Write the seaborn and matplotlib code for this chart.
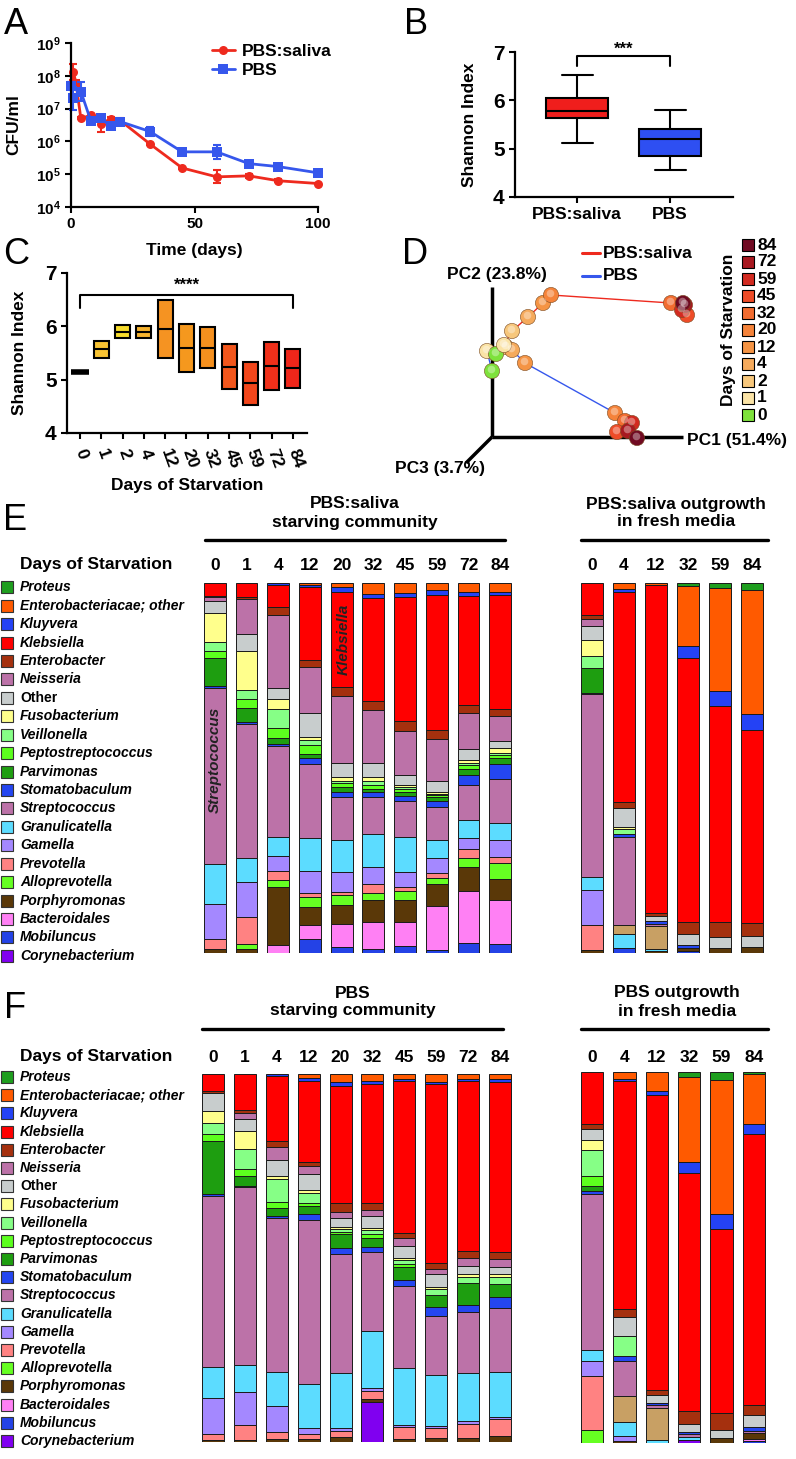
import numpy as np
import pandas as pd
import seaborn as sns
import matplotlib.pyplot as plt
from matplotlib.patches import Rectangle
from matplotlib.ticker import NullLocator
from matplotlib import transforms

sns.set_style("ticks")
plt.rcParams['font.family'] = ['Liberation Sans', 'DejaVu Sans']
plt.rcParams['font.weight'] = 'bold'
plt.rcParams['axes.labelweight'] = 'bold'
plt.rcParams['text.color'] = 'black'
plt.rcParams['axes.labelcolor'] = 'black'
plt.rcParams['axes.edgecolor'] = 'black'
plt.rcParams['xtick.color'] = 'black'
plt.rcParams['ytick.color'] = 'black'
plt.rcParams['mathtext.fontset'] = 'custom'
plt.rcParams['mathtext.rm'] = 'Liberation Sans:bold'
plt.rcParams['mathtext.bf'] = 'Liberation Sans:bold'

# ---- panel A: CFU over time
cfu_days_saliva = [0, 1, 2, 4, 8, 12, 16, 20, 32, 45, 59, 72, 84, 100]
cfu_saliva = [5e7, 1.3e8, 6e7, 5e6, 6.3e6, 3.5e6, 4.8e6, 4.3e6, 8.3e5, 1.55e5, 8.3e4, 8.9e4, 6.3e4, 5.2e4]
cfu_saliva_err = [0.1, 0.25, 0.1, 0.03, 0.05, 0.25, 0.05, 0.08, 0.04, 0.04, 0.2, 0.06, 0.04, 0.03]
cfu_days_pbs = [0, 1, 4, 8, 12, 16, 20, 32, 45, 59, 72, 84, 100]
cfu_pbs = [5e7, 2.1e7, 3.3e7, 4.3e6, 5e6, 3e6, 4e6, 2e6, 4.8e5, 4.8e5, 2.1e5, 1.7e5, 1.1e5]
cfu_pbs_err = [0.1, 0.35, 0.3, 0.1, 0.05, 0.1, 0.05, 0.13, 0.04, 0.22, 0.04, 0.04, 0.04]

# ---- panel B: Shannon boxes
b_groups = ['PBS:saliva', 'PBS']
b_q1 = [5.63, 4.85]
b_med = [5.77, 5.20]
b_q3 = [6.05, 5.40]
b_lo = [5.12, 4.55]
b_hi = [6.53, 5.80]

# ---- panel C: Shannon by day (min / median / max)
c_days = ['0', '1', '2', '4', '12', '20', '32', '45', '59', '72', '84']
c_min = [5.15, 5.41, 5.78, 5.78, 5.41, 5.14, 5.21, 4.83, 4.53, 4.80, 4.84]
c_med = [5.15, 5.57, 5.90, 5.90, 5.95, 5.60, 5.60, 5.24, 4.94, 5.25, 5.21]
c_max = [5.15, 5.72, 6.03, 6.01, 6.49, 6.05, 5.99, 5.66, 5.33, 5.70, 5.58]
c_colors = ['#000000', '#F7C232', '#F7DC2C', '#F5B22E', '#F59322', '#F5981E',
            '#F5901E', '#F2561C', '#F2461B', '#F0301A', '#EF261A']

# ---- panel D: PCoA
d_days = [0, 1, 2, 4, 12, 20, 32, 45, 59, 72, 84]
d_saliva_pc1 = [4, 12, 20, 36, 51, 59, 179, 195, 190, 193, 191]
d_saliva_pc2 = [83, 92, 106, 120, 134, 142, 134, 122, 127, 132, 134]
d_pbs_pc1 = [0, -5, 14, 20, 33, 123, 133, 125, 140, 136, 145]
d_pbs_pc2 = [66, 86, 90, 87, 74, 24, 16, 5, 14, 6, -1]
d_day_colors = ['#7EE23C', '#FAE3A6', '#F7C77C', '#F5AA5C', '#F59444', '#F5833A',
                '#F26C30', '#EE4C28', '#D22A20', '#A81820', '#700A22']

# ---- panels E/F: genus composition (% of reads, top to bottom)
taxa = ['Prot', 'EntO', 'Kluy', 'Kleb', 'Entb', 'Neis', 'Oth', 'Fuso', 'Veil', 'Pept', 'Parv',
        'Stom', 'Strep', 'tan', 'Gran', 'Gam', 'Prev', 'Allo', 'Porph', 'Bact', 'Mobi', 'Cory']
taxa_labels = ['Proteus', 'Enterobacteriacae; other', 'Kluyvera', 'Klebsiella', 'Enterobacter',
               'Neisseria', 'Other', 'Fusobacterium', 'Veillonella', 'Peptostreptococcus',
               'Parvimonas', 'Stomatobaculum', 'Streptococcus', '', 'Granulicatella', 'Gamella',
               'Prevotella', 'Alloprevotella', 'Porphyromonas', 'Bacteroidales', 'Mobiluncus',
               'Corynebacterium']
taxa_colors = ['#1E9E1E', '#FF5A00', '#2442F5', '#FF0000', '#A5300E', '#BC72A8', '#C8CDCD',
               '#FFFF8C', '#86FF86', '#5CFF1E', '#1E9E10', '#2446F0', '#BC72A8', '#C8A064',
               '#5CDCFF', '#A488FF', '#FF8282', '#66FF22', '#5A3808', '#FF80F4', '#2442E6', '#8000F0']

e_starve_days = ['0', '1', '4', '12', '20', '32', '45', '59', '72', '84']
e_starve = [
    dict(Kleb=3.4, Entb=0.3, Neis=1.2, Oth=3.1, Fuso=8.0, Veil=2.4, Pept=1.8, Parv=7.7, Stom=0.4,
         Strep=47.6, Gran=10.8, Gam=9.3, Prev=2.7, Porph=1.2),
    dict(Kleb=3.9, Entb=0.5, Neis=9.5, Oth=4.5, Fuso=10.6, Veil=2.3, Pept=2.5, Parv=3.8, Stom=0.5,
         Strep=36.5, Gran=6.5, Gam=9.3, Prev=7.4, Allo=1.2, Porph=1.2),
    dict(Kluy=0.5, Kleb=5.9, Entb=2.1, Neis=19.8, Oth=3.0, Fuso=2.7, Veil=5.1, Pept=2.7, Parv=1.5,
         Stom=0.7, Strep=24.4, Gran=5.2, Gam=4.2, Prev=2.3, Allo=1.8, Porph=15.8, Bact=2.1),
    dict(EntO=0.5, Kluy=0.5, Kleb=19.8, Entb=1.8, Neis=12.5, Oth=6.5, Fuso=0.7, Veil=1.5, Pept=2.4,
         Parv=1.2, Stom=1.4, Strep=20.0, Gran=9.0, Gam=6.1, Prev=0.9, Allo=2.7, Porph=5.0, Bact=3.6, Mobi=3.9),
    dict(EntO=1.1, Kluy=1.2, Kleb=25.9, Entb=2.3, Neis=18.2, Oth=3.8, Fuso=0.9, Veil=0.5, Pept=1.1,
         Parv=1.5, Stom=1.2, Strep=11.7, Gran=8.6, Gam=5.4, Prev=0.9, Allo=2.7, Porph=5.0, Bact=6.3, Mobi=1.6),
    dict(EntO=2.9, Kluy=1.2, Kleb=27.8, Entb=2.4, Neis=14.4, Oth=3.6, Fuso=1.1, Veil=1.2, Pept=0.9,
         Parv=0.9, Stom=1.5, Strep=9.9, Gran=9.0, Gam=4.5, Prev=2.3, Allo=2.0, Porph=5.9, Bact=7.2, Mobi=1.2),
    dict(EntO=2.7, Kluy=1.1, Kleb=33.5, Entb=2.7, Neis=11.9, Oth=2.7, Fuso=0.5, Veil=0.5, Pept=1.0,
         Parv=1.0, Stom=1.5, Strep=9.7, Gran=9.3, Gam=4.1, Prev=1.1, Allo=2.5, Porph=5.9, Bact=6.6, Mobi=1.8),
    dict(EntO=2.0, Kluy=1.2, Kleb=36.5, Entb=2.5, Neis=11.2, Oth=3.0, Fuso=0.5, Veil=0.5, Pept=0.5,
         Parv=1.0, Stom=1.6, Strep=9.0, Gran=4.7, Gam=4.3, Prev=1.1, Allo=1.8, Porph=5.9, Bact=12.0, Mobi=0.7),
    dict(EntO=2.3, Kluy=1.2, Kleb=29.5, Entb=2.1, Neis=9.9, Oth=2.9, Fuso=0.7, Veil=0.6, Pept=1.2,
         Parv=1.5, Stom=2.7, Strep=9.5, Gran=4.7, Gam=3.2, Prev=2.2, Allo=2.5, Porph=6.5, Bact=14.1, Mobi=2.7),
    dict(EntO=2.3, Kluy=0.9, Kleb=30.9, Entb=1.8, Neis=6.7, Oth=2.1, Fuso=1.2, Veil=0.6, Pept=0.9,
         Parv=1.6, Stom=4.1, Strep=11.7, Gran=4.7, Gam=4.5, Prev=1.8, Allo=4.1, Porph=5.7, Bact=11.9, Mobi=2.5),
]

e_grow_days = ['0', '4', '12', '32', '59', '84']
e_grow = [
    dict(Kleb=8.7, Entb=0.9, Neis=2.1, Oth=3.8, Fuso=4.3, Veil=3.1, Parv=6.9, Stom=0.3, Strep=49.3,
         Gran=3.6, Gam=9.3, Prev=6.8, Porph=0.9),
    dict(EntO=1.5, Kluy=0.9, Kleb=56.8, Entb=1.8, Oth=5.0, Fuso=0.6, Veil=1.2, Stom=0.9, Strep=23.9,
         tan=2.3, Gran=3.8, Mobi=1.4),
    dict(EntO=0.6, Kleb=88.7, Entb=0.6, Oth=1.5, Stom=0.7, Strep=0.5, tan=6.3, Gran=0.6, Porph=0.5),
    dict(Prot=0.9, EntO=16.2, Kluy=3.1, Kleb=71.7, Entb=3.2, Oth=3.0, Stom=0.7, Porph=0.8, Mobi=0.6),
    dict(Prot=1.3, EntO=27.8, Kluy=4.1, Kleb=58.4, Entb=4.2, Oth=2.9, Porph=1.4),
    dict(Prot=1.8, EntO=33.6, Kluy=4.3, Kleb=52.2, Entb=3.7, Oth=2.9, Porph=1.6),
]

f_starve_days = ['0', '1', '4', '12', '20', '32', '45', '59', '72', '84']
f_starve = [
    dict(Kleb=4.5, Entb=0.7, Oth=4.8, Fuso=3.2, Veil=3.1, Pept=1.8, Parv=14.5, Stom=0.6, Strep=46.5,
         Gran=8.4, Gam=9.7, Prev=1.6, Porph=0.6),
    dict(Kleb=9.8, Entb=0.9, Neis=1.6, Oth=3.3, Fuso=4.8, Veil=5.4, Pept=1.8, Parv=2.7, Stom=0.4,
         Strep=48.4, Gran=7.4, Gam=9.0, Prev=3.9, Porph=0.6),
    dict(Kluy=0.6, Kleb=17.6, Entb=1.6, Neis=3.6, Oth=4.3, Fuso=0.9, Veil=6.1, Pept=1.8, Parv=2.0,
         Stom=0.7, Strep=41.8, Gran=9.1, Gam=7.2, Prev=1.8, Porph=0.8),
    dict(EntO=1.2, Kluy=0.6, Kleb=22.0, Entb=1.2, Neis=2.0, Oth=4.5, Fuso=0.7, Veil=2.7, Pept=0.9,
         Parv=2.3, Stom=1.4, Strep=44.5, Gran=12.0, Gam=1.6, Prev=1.4, Porph=0.8),
    dict(EntO=2.3, Kluy=0.9, Kleb=32.0, Entb=2.3, Neis=1.8, Oth=2.3, Fuso=0.5, Veil=0.9, Pept=0.5,
         Parv=3.8, Stom=1.6, Strep=32.6, Gran=14.9, Gam=0.7, Prev=1.7, Porph=1.4),
    dict(EntO=1.8, Kluy=0.9, Kleb=32.4, Entb=2.0, Neis=1.6, Oth=3.2, Fuso=0.5, Veil=1.1, Pept=1.2,
         Parv=2.3, Stom=1.4, Strep=21.7, Gran=15.4, Gam=0.9, Prev=2.1, Porph=0.9, Cory=10.8),
    dict(EntO=1.4, Kluy=0.5, Kleb=41.3, Entb=1.5, Neis=2.1, Oth=3.2, Fuso=0.6, Veil=0.9, Pept=0.9,
         Parv=3.6, Stom=1.5, Strep=22.4, Gran=15.4, Gam=0.6, Prev=3.3, Porph=0.8),
    dict(EntO=2.1, Kluy=0.5, Kleb=48.7, Entb=1.5, Neis=1.5, Oth=3.4, Fuso=0.5, Veil=1.8, Parv=3.1,
         Stom=2.4, Strep=16.0, Gran=14.0, Gam=0.5, Prev=2.7, Porph=1.1),
    dict(EntO=1.4, Kluy=0.6, Kleb=46.0, Entb=2.0, Neis=2.1, Oth=2.3, Fuso=0.7, Veil=1.8, Parv=5.8,
         Stom=2.1, Strep=16.5, Gran=13.1, Gam=0.6, Prev=3.9, Porph=1.1),
    dict(EntO=1.4, Kluy=0.8, Kleb=46.0, Entb=2.1, Neis=2.0, Oth=2.0, Fuso=0.7, Veil=2.0, Parv=3.6,
         Stom=3.0, Strep=17.2, Gran=12.2, Gam=0.6, Prev=4.6, Porph=1.7),
]

f_grow_days = ['0', '4', '12', '32', '59', '84']
f_grow = [
    dict(Kleb=14.1, Entb=1.3, Oth=2.8, Fuso=2.7, Veil=7.2, Pept=2.5, Parv=1.5, Stom=0.7, Strep=42.0,
         Gran=3.0, Gam=4.0, Prev=14.6, Allo=3.4),
    dict(EntO=1.8, Kluy=0.7, Kleb=61.3, Entb=2.0, Oth=5.2, Veil=5.4, Stom=1.3, Strep=9.3, tan=7.0,
         Gran=3.9, Gam=1.3, Porph=0.5),
    dict(EntO=5.2, Kluy=0.9, Kleb=79.4, Entb=1.4, Oth=2.2, Stom=0.6, Strep=0.7, tan=8.5, Gran=0.9),
    dict(Prot=1.3, EntO=22.9, Kluy=3.0, Kleb=64.2, Entb=3.3, Oth=2.2, Stom=0.6, Strep=0.8, Gran=0.8, Cory=0.8),
    dict(Prot=2.1, EntO=36.1, Kluy=4.0, Kleb=49.7, Entb=4.5, Oth=2.2, Porph=1.3),
    dict(Prot=0.6, EntO=13.5, Kluy=2.5, Kleb=73.2, Entb=2.5, Oth=3.3, Stom=1.2, Strep=0.5, Porph=1.5,
         Bact=0.6, Mobi=0.5),
]

RED = '#EE2A1E'
BLUE = '#3657EC'

W, H = 796, 1459
fig = plt.figure(figsize=(W / 100, H / 100), dpi=100)


def px_axes(x0, y0, x1, y1):
    ax = fig.add_axes([x0 / W, 1 - y1 / H, (x1 - x0) / W, (y1 - y0) / H])
    ax.patch.set_alpha(0)
    return ax


def style_axis(ax, size):
    for s in ['left', 'bottom']:
        ax.spines[s].set_linewidth(1.6)
    ax.tick_params(width=1.5, length=4, labelsize=size)
    sns.despine(ax=ax)


# A
axA = px_axes(71, 43, 318, 207)
for days, vals, err, col, mk, lab in [(cfu_days_saliva, cfu_saliva, cfu_saliva_err, RED, 'o', 'PBS:saliva'),
                                      (cfu_days_pbs, cfu_pbs, cfu_pbs_err, BLUE, 's', 'PBS')]:
    v = np.array(vals)
    e = 10 ** np.array(err)
    axA.errorbar(days, v, yerr=[v - v / e, v * e - v], fmt='none', ecolor=col,
                 elinewidth=1.5, capsize=3, capthick=1.5, clip_on=False)
    sns.lineplot(x=days, y=vals, color=col, marker=mk, markersize=6.5, markeredgewidth=0,
                 linewidth=2, label=lab, ax=axA, clip_on=False)
axA.set_yscale('log')
axA.set_ylim(1e4, 1e9)
axA.set_xlim(0, 100)
axA.set_yticks([10.0 ** k for k in range(4, 10)])
axA.set_yticklabels([r'$\mathbf{10^{%d}}$' % k for k in range(4, 10)])
axA.yaxis.set_minor_locator(NullLocator())
axA.set_xticks([0, 50, 100])
style_axis(axA, 11)
axA.set_xlabel('Time (days)', fontsize=12.5)
axA.set_ylabel('CFU/ml', fontsize=12.5)
axA.xaxis.set_label_coords(0.5, -0.22)
axA.yaxis.set_label_coords(-0.2, 0.5)
axA.legend(loc='upper left', bbox_to_anchor=(212 / W, 1 - 44 / H), bbox_transform=fig.transFigure,
           frameon=False, fontsize=12.5, handlelength=1.3, handletextpad=0.4, labelspacing=0.2,
           borderpad=0, borderaxespad=0)

# B
axB = px_axes(515, 52, 733, 197)
stats = [dict(med=b_med[i], q1=b_q1[i], q3=b_q3[i], whislo=b_lo[i], whishi=b_hi[i], label=b_groups[i])
         for i in range(2)]
bp = axB.bxp(stats, positions=[0, 1], widths=0.667, patch_artist=True, showfliers=False,
             boxprops=dict(edgecolor='black', linewidth=1.5),
             medianprops=dict(color='black', linewidth=1.5),
             whiskerprops=dict(color='black', linewidth=1.5),
             capprops=dict(color='black', linewidth=1.5))
for patch, c in zip(bp['boxes'], ['#F01E1C', '#2E4FF2']):
    patch.set_facecolor(c)
axB.set_xlim(-0.667, 1.677)
axB.set_ylim(4, 7)
axB.set_yticks([4, 5, 6, 7])
style_axis(axB, 15)
axB.tick_params(axis='x', labelsize=12.5)
axB.set_ylabel('Shannon Index', fontsize=12.5)
axB.yaxis.set_label_coords(-0.175, 0.5)
axB.plot([0, 0, 1, 1], [6.72, 6.91, 6.91, 6.72], color='black', lw=1.5, clip_on=False)
axB.text(0.5, 7.06, '***', ha='center', va='center', fontsize=12)

# C
axC = px_axes(67, 273, 307, 433)
xc = np.arange(len(c_days))
lo = np.array(c_min)
hi = np.array(c_max)
axC.bar(xc[1:], (hi - lo)[1:], bottom=lo[1:], width=0.7, color=c_colors[1:],
        edgecolor='black', linewidth=1.5)
axC.hlines(c_med[1:], xc[1:] - 0.35, xc[1:] + 0.35, color='black', lw=1.5)
axC.hlines(c_med[:1], xc[:1] - 0.4, xc[:1] + 0.4, color='black', lw=4)
axC.set_xlim(-0.61, 10.66)
axC.set_ylim(4, 7)
axC.set_yticks([4, 5, 6, 7])
axC.set_xticks(xc)
axC.set_xticklabels(c_days, rotation=-70, ha='left', va='center', rotation_mode='anchor')
style_axis(axC, 15)
axC.tick_params(axis='x', labelsize=12.5, pad=8)
axC.set_ylabel('Shannon Index', fontsize=12.5)
axC.yaxis.set_label_coords(-0.165, 0.5)
axC.set_xlabel('Days of Starvation', fontsize=12.5)
axC.xaxis.set_label_coords(0.5, -0.28)
axC.plot([0, 0, 10, 10], [6.34, 6.58, 6.58, 6.34], color='black', lw=1.5, clip_on=False)
axC.text(5, 6.77, '****', ha='center', va='center', fontsize=12)

# D
axD = px_axes(400, 220, 796, 480)
axD.set_xlim(-92, 304)
axD.set_ylim(-43, 217)
axD.axis('off')
axD.plot([0, 0], [0, 150], color='black', lw=2.5, solid_capstyle='butt')
axD.plot([0, 191], [0, 0], color='black', lw=2.5, solid_capstyle='butt')
axD.plot([0, -26], [0, -26], color='black', lw=2.5, solid_capstyle='butt')
axD.plot(d_saliva_pc1[:7], d_saliva_pc2[:7], color=RED, lw=1)
axD.plot(d_pbs_pc1[:7], d_pbs_pc2[:7], color=BLUE, lw=1)
pal = dict(zip(d_days, d_day_colors))
pts = pd.DataFrame({'pc1': d_pbs_pc1 + d_saliva_pc1, 'pc2': d_pbs_pc2 + d_saliva_pc2,
                    'day': d_days + d_days})
sns.scatterplot(data=pts, x='pc1', y='pc2', hue='day', palette=pal, s=120, edgecolor='#7a4a20',
                linewidth=0.4, legend=False, ax=axD, zorder=3)
axD.scatter(pts['pc1'] - 1.5, pts['pc2'] + 1.5, s=30, color='white', alpha=0.35, lw=0, zorder=4)

# E / F stacked bars
def stacked(ax, rows, days, width=0.69):
    df = pd.DataFrame(rows, index=days).reindex(columns=taxa).fillna(0)
    df = df.div(df.sum(axis=1), axis=0) * 100
    x = np.arange(len(df))
    bottom = np.zeros(len(df))
    for code, col in zip(taxa, taxa_colors):
        vals = df[code].values
        m = vals > 0
        ax.bar(x[m], vals[m], bottom=bottom[m], width=width, color=col,
               edgecolor='#1a1a1a', linewidth=0.7)
        bottom += vals
    ax.set_ylim(100, 0)
    ax.set_xlim(-0.5, len(df) - 0.5)
    ax.axis('off')
    return x


axE1 = px_axes(199, 583, 516, 953)
axE2 = px_axes(576, 583, 768, 953)
axF1 = px_axes(197, 1074, 516, 1442)
axF2 = px_axes(576, 1072, 770, 1443)
bar_sets = [(axE1, e_starve, e_starve_days, 565), (axE2, e_grow, e_grow_days, 565),
            (axF1, f_starve, f_starve_days, 1057), (axF2, f_grow, f_grow_days, 1057)]

# canvas for free text and lines, in pixel units
cv = fig.add_axes([0, 0, 1, 1])
cv.set_xlim(0, W)
cv.set_ylim(H, 0)
cv.axis('off')

for ax, rows, days, ylab in bar_sets:
    x = stacked(ax, rows, days)
    tr = transforms.blended_transform_factory(ax.transData, cv.transData)
    for xi, d in zip(x, days):
        cv.text(xi, ylab, d, transform=tr, ha='center', va='center', fontsize=12.5)

# panel letters
for letter, (lx, ly) in zip('ABCDEF', [(16, 25), (416, 25), (16, 255), (415, 255), (15, 521), (15, 1009)]):
    cv.text(lx, ly, letter, fontsize=26, fontweight='normal', ha='center', va='center')

# D annotations
cv.text(497, 275, 'PC2 (23.8%)', ha='center', va='center', fontsize=12.5)
cv.text(737, 440, 'PC1 (51.4%)', ha='center', va='center', fontsize=12.5)
cv.text(440, 468, 'PC3 (3.7%)', ha='center', va='center', fontsize=12.5)
cv.plot([582, 600], [253, 253], color=RED, lw=2.2)
cv.plot([582, 600], [276, 276], color=BLUE, lw=2.2)
cv.text(603, 253, 'PBS:saliva', ha='left', va='center', fontsize=12.5)
cv.text(603, 276, 'PBS', ha='left', va='center', fontsize=12.5)
for i, (d, c) in enumerate(zip(d_days[::-1], d_day_colors[::-1])):
    yy = 245 + i * 17
    cv.add_patch(Rectangle((742, yy - 6), 12, 12, facecolor=c, edgecolor='black', lw=0.8))
    cv.text(757, yy, str(d), ha='left', va='center', fontsize=12.5)
cv.text(728, 330, 'Days of Starvation', rotation=90, ha='center', va='center', fontsize=12.5)

# E / F headers
for cx, yy, txt, x0, x1 in [(355, 513, 'PBS:saliva\nstarving community', 205, 505),
                            (676, 513, 'PBS:saliva outgrowth\nin fresh media', 581, 768),
                            (353, 1002, 'PBS\nstarving community', 202, 503),
                            (677, 1002, 'PBS outgrowth\nin fresh media', 581, 768)]:
    cv.text(cx, yy, txt, ha='center', va='center', fontsize=12.5, linespacing=1.25)
    cv.plot([x0, x1], [yy + 27, yy + 27], color='black', lw=2.4)

cv.text(215, 760, 'Streptococcus', rotation=90, ha='center', va='center', fontsize=11,
        style='italic', color='#222222')
cv.text(344, 639, 'Klebsiella', rotation=90, ha='center', va='center', fontsize=11,
        style='italic', color='#222222')

# legends
for ytitle, y0, step in [(565, 587.3, 18.43), (1057, 1077, 18.2)]:
    cv.text(20, ytitle, 'Days of Starvation', ha='left', va='center', fontsize=12.5)
    k = 0
    for code, lab, col in zip(taxa, taxa_labels, taxa_colors):
        if code == 'tan':
            continue
        yy = y0 + k * step
        cv.add_patch(Rectangle((1, yy - 6), 12, 12, facecolor=col, edgecolor='#333333', lw=0.8))
        cv.text(20, yy, lab, ha='left', va='center', fontsize=10,
                style='normal' if code == 'Oth' else 'italic')
        k += 1

fig.savefig('out.png', dpi=100)
